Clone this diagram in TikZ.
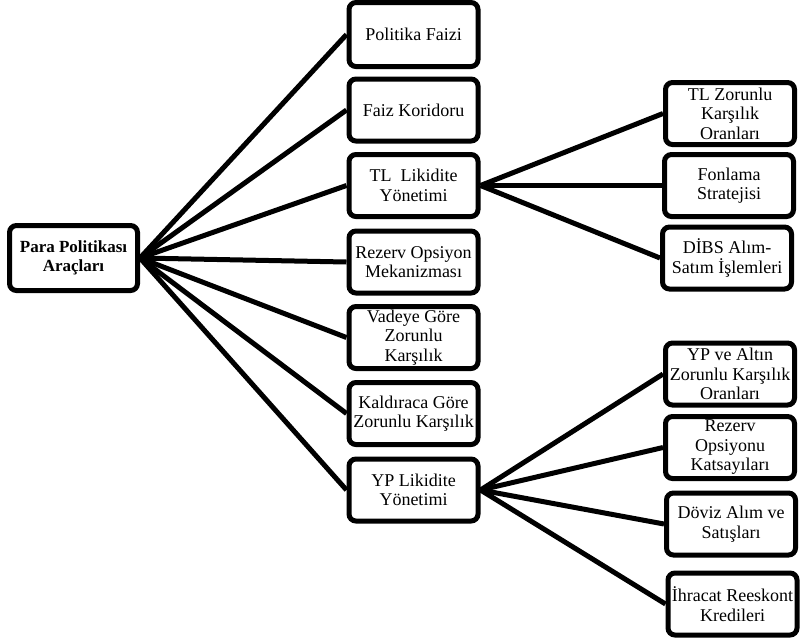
\documentclass[tikz,border=0pt]{standalone}
\usepackage{fontspec}
\setmainfont{Liberation Serif}
\begin{document}
\begin{tikzpicture}[x=1pt,y=-1pt,
  box/.style={draw=black, line width=5pt, rounded corners=7pt, fill=white,
    minimum width=129pt, minimum height=62pt, inner sep=0pt, align=center,
    font=\fontsize{18}{19.5}\selectfont},
  link/.style={line width=5pt, black}]
\useasboundingbox (0,0) rectangle (800,641);
% root
\node[box, minimum width=128pt, minimum height=65pt, font=\fontsize{17}{19.5}\selectfont\bfseries] (root) at (73.5,258) {Para Politikası\\Araçları};
% middle column
\node[box, minimum height=64pt] (m1) at (413.5,34.5) {Politika Faizi};
\node[box] (m2) at (413.5,110) {Faiz Koridoru};
\node[box] (m3) at (413.5,185.5) {TL\ \ Likidite\\Yönetimi};
\node[box] (m4) at (413.5,262) {Rezerv Opsiyon\\Mekanizması};
\node[box] (m5) at (413.5,337.5) {Vadeye Göre\\Zorunlu\\Karşılık};
\node[box] (m6) at (413.5,413.5) {Kaldıraca Göre\\Zorunlu Karşılık};
\node[box] (m7) at (413.5,490) {YP Likidite\\Yönetimi};
% right column (TL)
\node[box] (r1) at (730,113.5) {TL Zorunlu\\Karşılık\\Oranları};
\node[box] (r2) at (729,185.5) {Fonlama\\Stratejisi};
\node[box] (r3) at (727,258) {DİBS Alım-\\Satım İşlemleri};
% right column (YP)
\node[box] (r4) at (730,374) {YP ve Altın\\Zorunlu Karşılık\\Oranları};
\node[box] (r5) at (730,447.5) {Rezerv\\Opsiyonu\\Katsayıları};
\node[box] (r6) at (731,524) {Döviz Alım ve\\Satışları};
\node[box] (r7) at (732.5,604) {İhracat Reeskont\\Kredileri};
% links
\foreach \m in {m1,m2,m3,m4,m5,m6,m7}
  \draw[link] (root.east) -- (\m.west);
\foreach \r in {r1,r2,r3}
  \draw[link] (m3.east) -- (\r.west);
\foreach \r in {r4,r5,r6,r7}
  \draw[link] (m7.east) -- (\r.west);
\end{tikzpicture}
\end{document}
